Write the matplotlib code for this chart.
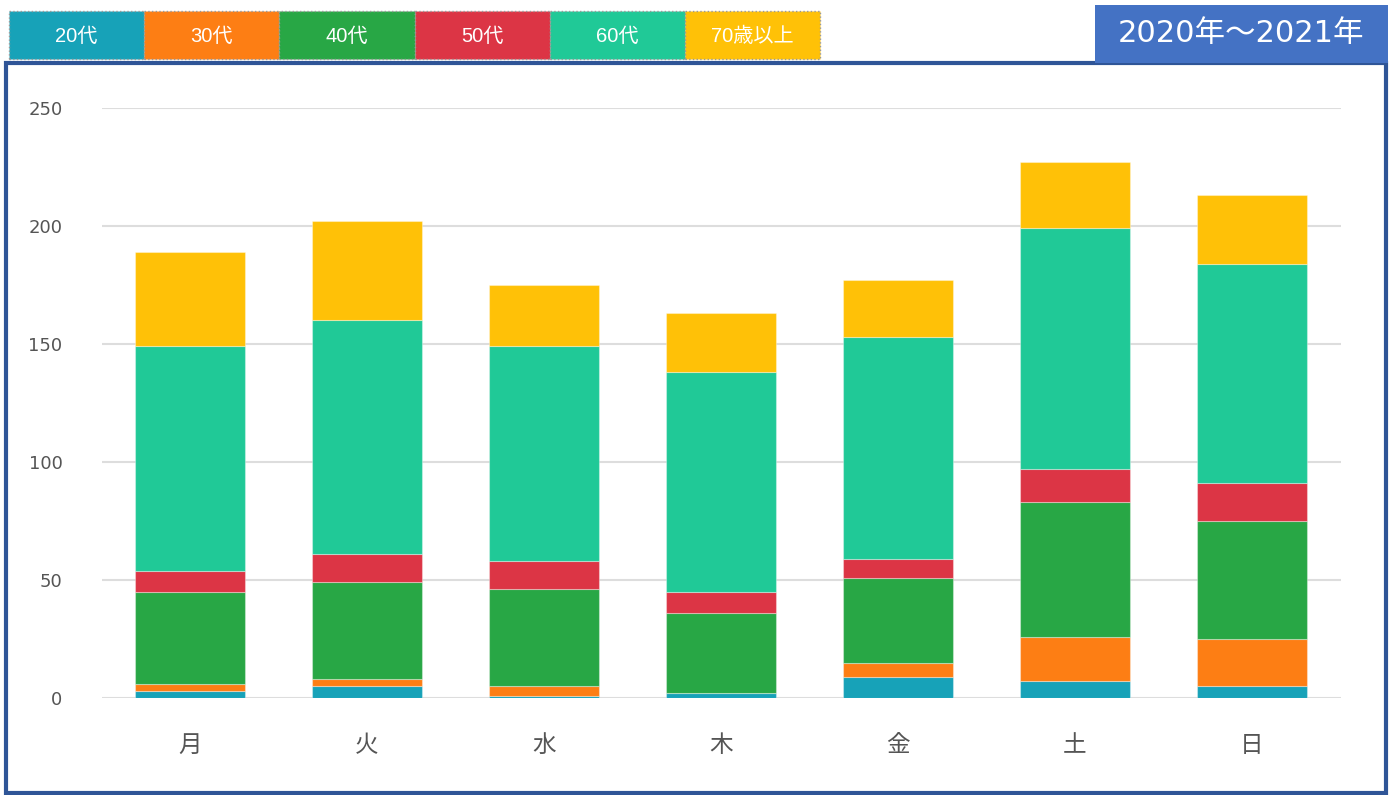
import matplotlib.pyplot as plt
from matplotlib.patches import Rectangle

plt.rcParams['font.family'] = ['Noto Sans CJK JP', 'DejaVu Sans']

days = ['月', '火', '水', '木', '金', '土', '日']
groups = ['20代', '30代', '40代', '50代', '60代', '70歳以上']
colors = ['#17A2B8', '#FD7E14', '#28A745', '#DC3545', '#20C997', '#FFC107']

age20 = [3, 5, 1, 2, 9, 7, 5]
age30 = [3, 3, 4, 0, 6, 19, 20]
age40 = [39, 41, 41, 34, 36, 57, 50]
age50 = [9, 12, 12, 9, 8, 14, 16]
age60 = [95, 99, 91, 93, 94, 102, 93]
age70 = [40, 42, 26, 25, 24, 28, 29]
series = [age20, age30, age40, age50, age60, age70]

W, H = 1390, 795
fig = plt.figure(figsize=(W / 100, H / 100), dpi=100)

# outer frame
fig.patches.append(Rectangle((6 / W, 2 / H), 1380 / W, (H - 65) / H,
                             transform=fig.transFigure, fill=False,
                             edgecolor='#2F5597', linewidth=3, zorder=0))

# period box in the top right corner
fig.patches.append(Rectangle((1095 / W, (H - 63) / H), 293 / W, 58 / H,
                             transform=fig.transFigure, facecolor='#4472C4',
                             edgecolor='none', zorder=1))
fig.text((1095 + 293 / 2) / W, (H - 34) / H, '2020年～2021年', color='white',
         fontsize=22, ha='center', va='center',
         family=['DejaVu Sans', 'Noto Sans CJK JP'])

# legend swatches along the top
bw = 135.2
for i, (g, c) in enumerate(zip(groups, colors)):
    x0 = 9 + i * bw
    fig.patches.append(Rectangle((x0 / W, (H - 59) / H), bw / W, 48 / H,
                                 transform=fig.transFigure, facecolor=c,
                                 edgecolor='#999999', linestyle=':',
                                 linewidth=1, zorder=1))
    fig.text((x0 + bw / 2) / W, (H - 36) / H, g, color='white', fontsize=14.5,
             ha='center', va='center',
             family=['Liberation Sans', 'Noto Sans CJK JP'])

ax = fig.add_axes([101.5 / W, (H - 698) / H, 1239 / W, 590 / H])
bottom = [0] * len(days)
for vals, c in zip(series, colors):
    ax.bar(days, vals, bottom=bottom, width=0.627, color=c,
           edgecolor=(1, 1, 1, 0.35), linewidth=0.8, zorder=2)
    bottom = [b + v for b, v in zip(bottom, vals)]

ax.set_xlim(-0.5, 6.5)
ax.set_ylim(0, 250)
ax.set_yticks([0, 50, 100, 150, 200, 250])
ax.yaxis.grid(True, color='#DDDDDD', linewidth=1.5, zorder=0)
ax.set_axisbelow(True)
for s in ax.spines.values():
    s.set_visible(False)
ax.tick_params(axis='y', length=0, pad=28, labelsize=13, labelcolor='#555555')
ax.tick_params(axis='x', length=0, pad=26, labelsize=17, labelcolor='#555555')
for lab in ax.get_yticklabels():
    lab.set_fontfamily('DejaVu Sans')

fig.savefig('out.png', dpi=100)
